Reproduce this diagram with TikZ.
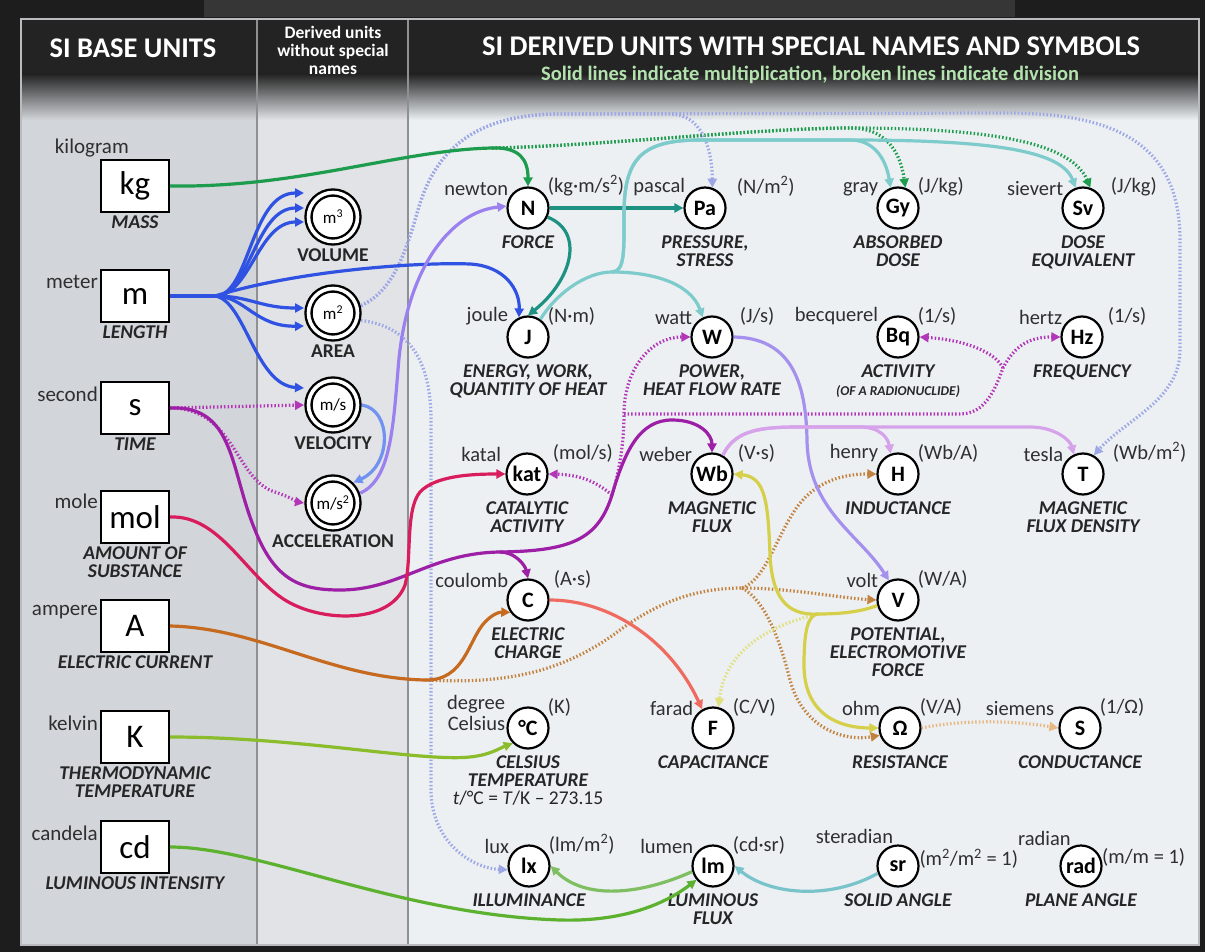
\documentclass[tikz,border=0pt]{standalone}
\usepackage{fontspec}
\setmainfont{Carlito}
\usetikzlibrary{positioning,calc,arrows.meta}
\definecolor{FrameDark}{HTML}{1D1D1D}
\definecolor{StripGray}{HTML}{363636}
\definecolor{ColBase}{HTML}{D2D5D9}
\definecolor{ColMid}{HTML}{E1E3E6}
\definecolor{ColDerived}{HTML}{ECF0F3}
\definecolor{HeadDark}{HTML}{232323}
\definecolor{SepGray}{HTML}{8E9094}
\definecolor{EdgeGray}{HTML}{B9BBBE}
\definecolor{NoteGreen}{HTML}{B3E2AE}
\definecolor{TextGray}{HTML}{2F2F2F}
\definecolor{KgGreen}{HTML}{1C9C4C}
\definecolor{MBlue}{HTML}{3052E2}
\definecolor{SPurple}{HTML}{9C1FA6}
\definecolor{SMagenta}{HTML}{B335B8}
\definecolor{MolCrimson}{HTML}{D91D5C}
\definecolor{AOrange}{HTML}{C66A1F}
\definecolor{ADotted}{HTML}{C4823F}
\definecolor{KGreen}{HTML}{8BBC2B}
\definecolor{CdGreen}{HTML}{5CB12F}
\definecolor{NTeal}{HTML}{1E9282}
\definecolor{JTeal}{HTML}{7DCBCB}
\definecolor{AreaLav}{HTML}{9DA7E6}
\definecolor{WLav}{HTML}{A590EE}
\definecolor{WbPink}{HTML}{D6A2EA}
\definecolor{VYellow}{HTML}{D5CF4A}
\definecolor{VPale}{HTML}{E0E07C}
\definecolor{CCoral}{HTML}{EF6B61}
\definecolor{LmGreen}{HTML}{7FBF61}
\definecolor{SrTeal}{HTML}{79C3CB}
\definecolor{VelBlue}{HTML}{7192F0}
\definecolor{AccViolet}{HTML}{9B80F0}
\definecolor{OhmPale}{HTML}{E8B984}

\tikzset{
  basebox/.style={draw, line width=2pt, fill=white, minimum width=68pt, minimum height=52pt,
    inner sep=0pt, font=\fontsize{33}{33}\selectfont},
  ringunit/.style={circle, draw, fill=white, line width=2.4pt, double=white, double distance=3.6pt,
    minimum size=49pt, inner sep=0pt, outer sep=4.5pt, font=\fontsize{17}{17}\selectfont},
  namedunit/.style={circle, draw, fill=white, line width=2.2pt, minimum size=41pt, inner sep=0pt,
    font=\bfseries\fontsize{22}{22}\selectfont},
  bname/.style={font=\fontsize{21}{21}\selectfont, text=TextGray, inner sep=2pt},
  uname/.style={font=\fontsize{20.5}{21}\selectfont, text=TextGray, inner sep=1pt},
  qty/.style={font=\bfseries\itshape\fontsize{19.5}{18}\selectfont, text=black!85, align=center,
    inner sep=1pt, label distance=5pt},
  ringqty/.style={font=\bfseries\fontsize{19.5}{18}\selectfont, text=black!85, inner sep=1pt,
    label distance=2pt},
  head/.style={font=\bfseries\fontsize{28.5}{28.5}\selectfont, text=white},
  stem/.style={line width=3.2pt},
  mul/.style={line width=3.2pt, -{Triangle[length=9pt,width=9pt]}},
  dvd/.style={mul, dash pattern=on 1.5pt off 2.1pt},
}

\begin{document}
\begin{tikzpicture}[x=1pt,y=-1pt]
\useasboundingbox (0,0) rectangle (1205,952);

% frame and columns
\fill[FrameDark] (0,0) rectangle (1205,952);
\fill[StripGray] (204,0) rectangle (1015,17);
\fill[ColBase] (22,19) rectangle (257,944);
\fill[ColMid] (257,19) rectangle (408,944);
\fill[ColDerived] (408,19) rectangle (1198,944);
\fill[HeadDark] (22,19) rectangle (1198,74);
\shade[top color=HeadDark, bottom color=ColBase] (22,74) rectangle (257,120);
\shade[top color=HeadDark, bottom color=ColMid] (257,74) rectangle (408,120);
\shade[top color=HeadDark, bottom color=ColDerived] (408,74) rectangle (1198,120);
\draw[SepGray, line width=2pt] (257,19) -- (257,944);
\draw[SepGray, line width=2pt] (408,19) -- (408,944);
\draw[EdgeGray, line width=2.5pt] (21,19) rectangle (1199,945);

% headers
\node[head] (hbase) at (133,48) {SI BASE UNITS};
\node[font=\bfseries\fontsize{17.5}{18}\selectfont, text=white, align=center] (hmid) at (333,50)
  {Derived units\\without special\\names};
\node[head] (hderived) at (811,46) {SI DERIVED UNITS WITH SPECIAL NAMES AND SYMBOLS};
\node[font=\bfseries\fontsize{20.5}{20.5}\selectfont, text=NoteGreen] (hnote) at (810,75)
  {Solid lines indicate multiplication, broken lines indicate division};

% base units
\node[basebox, label={[bname,anchor=south east,xshift=-4pt]north:kilogram},
  label={[qty,label distance=2pt]below:MASS}] (kg) at (135,186) {kg};
\node[basebox, label={[bname,anchor=east]158:meter},
  label={[qty,label distance=2pt]below:LENGTH}] (m) at (135,296) {m};
\node[basebox, label={[bname,anchor=east]158:second},
  label={[qty,label distance=2pt]below:TIME}] (s) at (135,408) {s};
\node[basebox, label={[bname,anchor=east]156:mole},
  label={[qty,label distance=2pt]below:AMOUNT OF\\SUBSTANCE}] (mol) at (135,517) {mol};
\node[basebox, label={[bname,anchor=east]158:ampere},
  label={[qty,label distance=2pt]below:ELECTRIC CURRENT}] (A) at (135,626) {A};
\node[basebox, label={[bname,anchor=east]158:kelvin},
  label={[qty,label distance=2pt]below:THERMODYNAMIC\\TEMPERATURE}] (K) at (135,737) {K};
\node[basebox, label={[bname,anchor=east]158:candela},
  label={[qty,label distance=2pt]below:LUMINOUS INTENSITY}] (cd) at (135,847) {cd};

% derived units without special names
\node[ringunit, label={[ringqty]below:VOLUME}] (vol) at (333,217) {m\textsuperscript{3}};
\node[ringunit, label={[ringqty]below:AREA}] (area) at (333,313) {m\textsuperscript{2}};
\node[ringunit, label={[ringqty]below:VELOCITY}] (vel) at (333,405) {m/s};
\node[ringunit, label={[ringqty]below:ACCELERATION}] (acc) at (333,503) {m/s\textsuperscript{2}};

% derived units with special names
\node[namedunit, label={[uname]150:newton}, label={[uname]30:(kg·m/s\textsuperscript{2})},
  label={[qty]below:FORCE}] (N) at (528,208) {N};
\node[namedunit, label={[uname]150:pascal}, label={[uname,xshift=12pt]30:(N/m\textsuperscript{2})},
  label={[qty]below:PRESSURE,\\STRESS}] (Pa) at (705,208) {Pa};
\node[namedunit, label={[uname]150:gray}, label={[uname]30:(J/kg)},
  label={[qty]below:ABSORBED\\DOSE}] (Gy) at (898,208) {Gy};
\node[namedunit, label={[uname]150:sievert}, label={[uname,xshift=8pt]30:(J/kg)},
  label={[qty]below:DOSE\\EQUIVALENT}] (Sv) at (1083,208) {Sv};
\node[namedunit, label={[uname]150:joule}, label={[uname]30:(N·m)},
  label={[qty]below:ENERGY, WORK,\\QUANTITY OF HEAT}] (J) at (528,337) {J};
\node[namedunit, label={[uname]150:watt}, label={[uname,xshift=8pt]30:(J/s)},
  label={[qty]below:POWER,\\HEAT FLOW RATE}] (W) at (712,337) {W};
\node[namedunit, label={[uname]150:becquerel}, label={[uname]30:(1/s)},
  label={[qty]below:ACTIVITY\\{\fontsize{13.5}{15}\selectfont (OF A RADIONUCLIDE)}}] (Bq) at (898,337) {Bq};
\node[namedunit, label={[uname]150:hertz}, label={[uname,xshift=6pt]30:(1/s)},
  label={[qty]below:FREQUENCY}] (Hz) at (1082,337) {Hz};
\node[namedunit, label={[uname,xshift=-6pt]150:katal}, label={[uname,xshift=6pt]30:(mol/s)},
  label={[qty]below:CATALYTIC\\ACTIVITY}] (kat) at (527,474) {kat};
\node[namedunit, label={[uname]150:weber}, label={[uname,xshift=6pt]30:(V·s)},
  label={[qty]below:MAGNETIC\\FLUX}] (Wb) at (712,474) {Wb};
\node[namedunit, label={[uname]150:henry}, label={[uname]30:(Wb/A)},
  label={[qty]below:INDUCTANCE}] (H) at (898,474) {H};
\node[namedunit, label={[uname]150:tesla}, label={[uname,xshift=10pt]30:(Wb/m\textsuperscript{2})},
  label={[qty]below:MAGNETIC\\FLUX DENSITY}] (T) at (1083,474) {T};
\node[namedunit, label={[uname]150:coulomb}, label={[uname,xshift=6pt]30:(A·s)},
  label={[qty]below:ELECTRIC\\CHARGE}] (C) at (528,600) {C};
\node[namedunit, label={[uname]150:volt}, label={[uname]30:(W/A)},
  label={[qty]below:POTENTIAL,\\ELECTROMOTIVE\\FORCE}] (V) at (898,600) {V};
\node[namedunit, label={[uname,align=right,anchor=east,xshift=-3pt,yshift=4pt]150:degree\\Celsius},
  label={[uname]30:(K)},
  label={[qty]below:CELSIUS\\TEMPERATURE\\{\normalfont\fontsize{19.5}{21}\selectfont
    \textit{t}/°C = \textit{T}/K – 273.15}}] (degC) at (528,728) {°C};
\node[namedunit, label={[uname]150:farad}, label={[uname]30:(C/V)},
  label={[qty]below:CAPACITANCE}] (F) at (713,728) {F};
\node[namedunit, label={[uname]150:ohm}, label={[uname]30:(V/A)},
  label={[qty]below:RESISTANCE}] (ohm) at (900,728) {Ω};
\node[namedunit, label={[uname,xshift=-6pt]150:siemens}, label={[uname]30:(1/Ω)},
  label={[qty]below:CONDUCTANCE}] (S) at (1080,728) {S};
\node[namedunit, label={[uname]150:lux}, label={[uname]30:(lm/m\textsuperscript{2})},
  label={[qty]below:ILLUMINANCE}] (lx) at (529,866) {lx};
\node[namedunit, label={[uname]150:lumen}, label={[uname]30:(cd·sr)},
  label={[qty]below:LUMINOUS\\FLUX}] (lm) at (713,866) {lm};
\node[namedunit, label={[uname,anchor=south east]100:steradian},
  label={[uname,anchor=west]20:{(m\textsuperscript{2}/m\textsuperscript{2} = 1)}},
  label={[qty]below:SOLID ANGLE}] (sr) at (898,866) {sr};
\node[namedunit, label={[uname,anchor=south east]115:radian},
  label={[uname,anchor=west]22:{(m/m = 1)}},
  label={[qty]below:PLANE ANGLE}] (rad) at (1081,866) {rad};

% branch points
\coordinate (kgfork) at (492,148);
\coordinate (mfork) at (215,296);
\coordinate (cfork) at (500,552);
\coordinate (sfork) at (612,495);
\coordinate (sdot) at (624,414);
\coordinate (hzfork) at (1003,368);
\coordinate (afork) at (425,680);
\coordinate (ajoin) at (742,588);
\coordinate (jfork) at (612,272);
\coordinate (vfork) at (818,614);

% broken lines (division)
\draw[dvd, KgGreen] (kgfork) .. controls (600,146) and (760,128) .. (850,128)
  .. controls (885,128) and (900,150) .. (Gy.70);
\draw[dvd, KgGreen] (kgfork) .. controls (600,146) and (760,128) .. (850,128)
  .. controls (980,128) and (1070,140) .. (Sv.70);
\draw[dvd, AreaLav] (area.15) .. controls (392,292) and (405,255) .. (418,210)
  .. controls (435,150) and (475,114) .. (560,114) -- (670,114)
  .. controls (700,114) and (712,145) .. (Pa.70);
\draw[dvd, AreaLav] (area.15) .. controls (392,292) and (405,255) .. (418,210)
  .. controls (435,150) and (475,114) .. (560,114) -- (1000,113)
  .. controls (1110,112) and (1180,140) .. (1180,240) -- (1180,350)
  .. controls (1180,400) and (1125,420) .. (T.60);
\draw[dvd, AreaLav] (area.-15) .. controls (400,325) and (431,350) .. (431,420) -- (431,790)
  .. controls (431,840) and (470,868) .. (lx.190);
\draw[dvd, SMagenta] (s.east) -- (vel.west);
\draw[dvd, SMagenta] (s.east) .. controls (235,408) and (235,480) .. (275,492)
  .. controls (290,497) and (298,502) .. (acc.west);
\draw[dvd, SMagenta] (sfork) .. controls (600,485) and (585,475) .. (kat.east);
\draw[dvd, SMagenta] (sfork) .. controls (620,470) and (624,440) .. (sdot)
  .. controls (624,370) and (650,337) .. (W.west);
\draw[dvd, SMagenta] (sdot) -- (960,414) .. controls (985,414) and (995,390) .. (hzfork)
  .. controls (1015,345) and (1030,337) .. (Hz.west);
\draw[dvd, SMagenta] (hzfork) .. controls (995,352) and (965,340) .. (Bq.east);
\draw[dvd, ADotted] (afork) .. controls (500,684) and (560,675) .. (620,630)
  .. controls (665,597) and (705,588) .. (ajoin) .. controls (790,588) and (840,598) .. (V.west);
\draw[dvd, ADotted] (ajoin) .. controls (765,580) and (775,540) .. (795,510)
  .. controls (815,480) and (845,474) .. (H.west);
\draw[dvd, ADotted] (ajoin) .. controls (765,600) and (780,640) .. (790,680)
  .. controls (802,725) and (840,742) .. (ohm.200);
\draw[dvd, VPale] (vfork) .. controls (770,625) and (725,650) .. (F.75);
\draw[dvd, OhmPale] (ohm.east) .. controls (960,720) and (1010,720) .. (S.west);

% solid lines (multiplication)
\draw[mul, KgGreen] (kg.east) .. controls (300,188) and (400,150) .. (kgfork)
  .. controls (520,147) and (528,160) .. (N.north);
\draw[stem, MBlue] (m.east) -- (mfork);
\draw[mul, MBlue] (mfork) .. controls (250,296) and (250,193) .. ([yshift=24pt]vol.west);
\draw[mul, MBlue] (mfork) .. controls (250,296) and (255,208) .. ([yshift=9pt]vol.west);
\draw[mul, MBlue] (mfork) .. controls (250,296) and (258,222) .. ([yshift=-5pt]vol.west);
\draw[mul, MBlue] (mfork) .. controls (250,296) and (260,308) .. ([yshift=5pt]area.west);
\draw[mul, MBlue] (mfork) .. controls (245,296) and (255,327) .. ([yshift=-13pt]area.west);
\draw[mul, MBlue] (mfork) .. controls (245,300) and (255,385) .. ([yshift=17pt]vel.west);
\draw[mul, MBlue] (mfork) .. controls (300,270) and (420,262) .. (470,264)
  .. controls (505,266) and (520,290) .. (J.115);
\draw[mul, SPurple] (s.east) .. controls (235,405) and (230,470) .. (255,530)
  .. controls (275,580) and (300,590) .. (340,590) .. controls (400,590) and (430,553) .. (cfork)
  .. controls (570,551) and (598,540) .. (sfork) .. controls (625,450) and (640,420) .. (672,420)
  .. controls (700,420) and (712,435) .. (Wb.north);
\draw[mul, SPurple] (cfork) .. controls (515,552) and (525,565) .. (C.north);
\draw[mul, MolCrimson] (mol.east) .. controls (220,515) and (245,575) .. (285,600)
  .. controls (320,622) and (390,625) .. (405,585) .. controls (412,560) and (405,510) .. (420,492)
  .. controls (435,476) and (470,474) .. (kat.west);
\draw[mul, AOrange] (A.east) .. controls (260,628) and (330,678) .. (afork)
  .. controls (465,681) and (468,640) .. (485,622) .. controls (492,615) and (498,612) .. (C.215);
\draw[mul, KGreen] (K.east) .. controls (300,737) and (420,762) .. (470,757)
  .. controls (490,755) and (500,748) .. (degC.225);
\draw[mul, CdGreen] (cd.east) .. controls (260,847) and (400,915) .. (560,920)
  .. controls (630,922) and (670,900) .. (lm.220);
\draw[mul, VelBlue] (vel.east) .. controls (392,410) and (392,465) .. (acc.45);
\draw[mul, AccViolet] (acc.20) .. controls (390,480) and (393,430) .. (398,370)
  .. controls (405,270) and (450,212) .. (N.175);
\draw[mul, NTeal] (N.east) -- (Pa.west);
\draw[mul, NTeal] (N.-25) .. controls (585,232) and (572,280) .. (J.north);
\draw[mul, JTeal] (J.55) .. controls (555,295) and (585,272) .. (jfork)
  .. controls (650,272) and (690,282) .. (W.115);
\draw[mul, JTeal] (jfork) .. controls (625,272) and (624,250) .. (624,215)
  .. controls (624,160) and (640,140) .. (700,140) -- (850,140)
  .. controls (875,140) and (886,160) .. (Gy.110);
\draw[mul, JTeal] (jfork) .. controls (625,272) and (624,250) .. (624,215)
  .. controls (624,160) and (640,140) .. (700,140) -- (850,140)
  .. controls (1000,140) and (1062,152) .. (Sv.110);
\draw[mul, WLav] (W.east) .. controls (790,338) and (806,380) .. (807,440)
  .. controls (808,510) and (860,535) .. (V.115);
\draw[mul, WbPink] (Wb.60) .. controls (735,430) and (760,427) .. (800,427) -- (860,427)
  .. controls (880,427) and (888,438) .. (H.110);
\draw[mul, WbPink] (Wb.60) .. controls (735,430) and (760,427) .. (800,427) -- (1030,427)
  .. controls (1055,427) and (1070,440) .. (T.115);
\draw[stem, VYellow] (V.195) .. controls (860,612) and (840,614) .. (vfork);
\draw[mul, VYellow] (vfork) .. controls (785,616) and (772,595) .. (770,555)
  .. controls (768,500) and (765,477) .. (Wb.east);
\draw[mul, VYellow] (vfork) .. controls (808,615) and (804,630) .. (804,665)
  .. controls (804,715) and (840,728) .. (ohm.west);
\draw[mul, CCoral] (C.east) .. controls (610,600) and (670,640) .. (F.120);
\draw[mul, LmGreen] (lm.195) .. controls (640,895) and (585,900) .. (lx.east);
\draw[mul, SrTeal] (sr.200) .. controls (830,900) and (770,895) .. (lm.east);
\end{tikzpicture}
\end{document}
